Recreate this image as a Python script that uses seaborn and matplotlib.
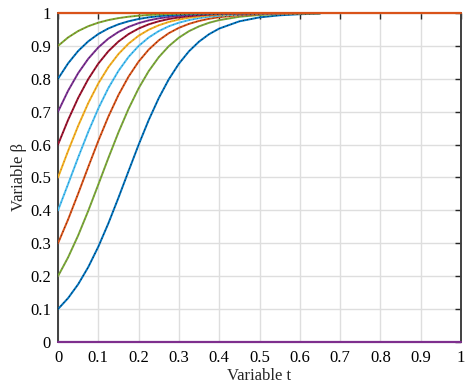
import numpy as np
import pandas as pd
import seaborn as sns
import matplotlib
matplotlib.use("Agg")
import matplotlib.pyplot as plt

# time samples
t = [0, 0.025, 0.05, 0.075, 0.1, 0.125, 0.15, 0.175, 0.2, 0.225, 0.25, 0.275,
     0.3, 0.325, 0.35, 0.375, 0.4, 0.45, 0.5, 0.55, 0.6, 0.65]

# beta(t) for each starting value
b01 = [0.1, 0.1333, 0.1755, 0.2275, 0.2896, 0.3607, 0.4385, 0.5194, 0.5994, 0.6744, 0.7413, 0.7987, 0.8459, 0.8837, 0.9131, 0.9357, 0.9527, 0.9747, 0.9867, 0.9930, 0.9963, 0.9981]
b02 = [0.2, 0.2571, 0.3238, 0.3986, 0.4785, 0.5594, 0.6373, 0.7086, 0.7710, 0.8233, 0.8657, 0.8993, 0.9251, 0.9448, 0.9594, 0.9704, 0.9784, 0.9886, 0.9940, 0.9969, 0.9984, 0.9991]
b03 = [0.3, 0.3723, 0.4509, 0.5319, 0.6113, 0.6852, 0.7508, 0.8065, 0.8523, 0.8887, 0.9170, 0.9387, 0.9549, 0.9670, 0.9759, 0.9825, 0.9873, 0.9933, 0.9965, 0.9982, 0.9990, 0.9995]
b04 = [0.4, 0.4799, 0.5609, 0.6387, 0.7098, 0.7720, 0.8241, 0.8664, 0.8998, 0.9255, 0.9450, 0.9597, 0.9705, 0.9785, 0.9844, 0.9887, 0.9918, 0.9957, 0.9977, 0.9988, 0.9994, 0.9997]
b05 = [0.5, 0.5806, 0.6570, 0.7261, 0.7859, 0.8355, 0.8754, 0.9068, 0.9309, 0.9491, 0.9627, 0.9728, 0.9802, 0.9856, 0.9895, 0.9924, 0.9945, 0.9971, 0.9985, 0.9992, 0.9996, 0.9998]
b06 = [0.6, 0.6749, 0.7418, 0.7990, 0.8462, 0.8839, 0.9133, 0.9359, 0.9528, 0.9655, 0.9748, 0.9817, 0.9867, 0.9903, 0.9930, 0.9949, 0.9963, 0.9981, 0.9990, 0.9995, 0.9997, 0.9999]
b07 = [0.7, 0.7636, 0.8172, 0.8608, 0.8954, 0.9222, 0.9425, 0.9578, 0.9692, 0.9775, 0.9837, 0.9881, 0.9914, 0.9938, 0.9955, 0.9967, 0.9976, 0.9988, 0.9994, 0.9997, 0.9998, 0.9999]
b08 = [0.8, 0.8470, 0.8846, 0.9138, 0.9362, 0.9531, 0.9656, 0.9749, 0.9818, 0.9868, 0.9904, 0.9930, 0.9950, 0.9964, 0.9974, 0.9981, 0.9986, 0.9993, 0.9996, 0.9998, 0.9999, 1.0]
b09 = [0.9, 0.9257, 0.9452, 0.9598, 0.9706, 0.9786, 0.9844, 0.9887, 0.9918, 0.9941, 0.9957, 0.9969, 0.9978, 0.9984, 0.9988, 0.9992, 0.9994, 0.9997, 0.9998, 0.9999, 1.0, 1.0]

# flat solutions
t_flat = [0, 1]
b00 = [0, 0]
b10 = [1, 1]

curves = [b01, b02, b03, b04, b05, b06, b07, b08, b09]
line_colors = ['#0072BD', '#77AC30', '#D95319', '#4DBEEE', '#EDB120',
               '#A2142F', '#7E2F8E', '#0072BD', '#77AC30']
dash_colors = ['#111111', '#7E2F8E', '#3a1a0a', '#0072BD', '#D95319',
               '#111111', '#1f1f5f', '#111111', '#A2142F']

sns.set_style("white")
plt.rcParams['font.family'] = ['Liberation Serif', 'DejaVu Serif']

fig = plt.figure(figsize=(4.72, 3.87), dpi=100)
ax = fig.add_axes([0.1229, 0.1163, 0.8538, 0.8501])

for vals, c, dc in zip(curves, line_colors, dash_colors):
    sns.lineplot(x=t, y=vals, color=c, linewidth=1.4, ax=ax, zorder=3)
    sns.lineplot(x=t, y=vals, color=dc, linewidth=0.6, linestyle=(0, (1, 4)), ax=ax, zorder=4)

sns.lineplot(x=t_flat, y=b00, color='#7E2F8E', linewidth=1.6, ax=ax, zorder=5, clip_on=False)
sns.lineplot(x=t_flat, y=b10, color='#D95319', linewidth=1.6, ax=ax, zorder=5, clip_on=False)

ax.set_xlim(0, 1)
ax.set_ylim(0, 1)
ticks = np.round(np.arange(0, 1.01, 0.1), 1)
labels = ['0'] + ['%.1f' % v for v in ticks[1:-1]] + ['1']
ax.set_xticks(ticks)
ax.set_xticklabels(labels)
ax.set_yticks(ticks)
ax.set_yticklabels(labels)

ax.grid(True, color='#dedede', linewidth=1)
ax.set_axisbelow(True)
ax.tick_params(direction='in', top=True, right=True, length=4, width=1,
               color='#262626', labelsize=12, labelcolor='black')
ax.tick_params(axis='x', pad=6)
ax.tick_params(axis='y', pad=5)
for s in ax.spines.values():
    s.set_color('#404040')
    s.set_linewidth(1.4)

ax.set_xlabel('Variable t', fontsize=12, labelpad=1)
ax.set_ylabel('Variable β', fontsize=12, labelpad=2)

fig.savefig('out.png', dpi=100)
